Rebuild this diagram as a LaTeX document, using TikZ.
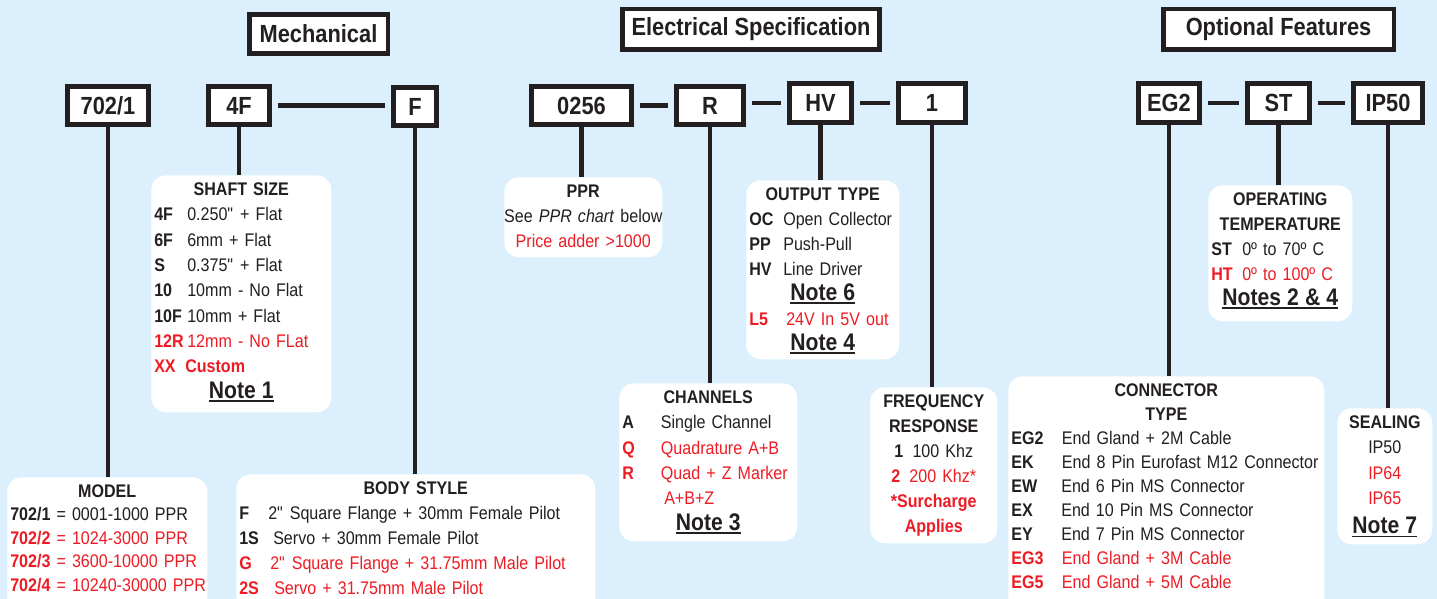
\documentclass[tikz,border=0pt]{standalone}
\usepackage{fontspec}
\setmainfont[FakeStretch=0.88]{Liberation Sans}
\usetikzlibrary{positioning,calc}
\definecolor{skyback}{RGB}{219,240,252}
\definecolor{inkblack}{RGB}{35,31,32}
\definecolor{codered}{RGB}{237,28,36}
\newcommand\codeline[3][24pt]{\makebox[\linewidth][l]{\makebox[#1][l]{\bfseries #2}#3}}
\newcommand\hot[1]{{\color{codered}#1}}
\newcommand\notetext[1]{\leavevmode\vtop{\hbox{\fontsize{18}{18}\selectfont\bfseries #1}%
  \kern1.1pt\hrule height 1.3pt}}
\tikzset{
  heading/.style={draw=inkblack,line width=3.4pt,fill=white,text=inkblack,
    font=\fontsize{18.6}{20}\selectfont\bfseries,inner sep=0pt},
  codebox/.style={heading,line width=3.5pt,minimum height=28.9pt},
  infobox/.style={fill=white,rounded corners=11pt,inner sep=0pt,anchor=north west},
  infotext/.style={anchor=north,inner sep=0pt,align=center,text=inkblack,yshift=-5.6pt},
  stem/.style={draw=inkblack,line width=3.5pt},
  link/.style={stem,shorten <=4.5pt,shorten >=4.5pt}
}
\begin{document}
\begin{tikzpicture}[x=0.75pt,y=-0.75pt]
  \useasboundingbox (0,0) rectangle (1437,599);
  \clip (0,0) rectangle (1437,599);
  \fill[skyback] (0,0) rectangle (1437,599);

  % section headings
  \node[heading,minimum width=103.9pt,minimum height=29.6pt] (mech) at (318.5,34) {Mechanical};
  \node[heading,minimum width=193.1pt,minimum height=30.4pt] (elec) at (751,29.5) {Electrical Specification};
  \node[heading,minimum width=172.9pt,minimum height=30.4pt] (opt) at (1278.5,29.5) {Optional Features};

  % part number codes
  \node[codebox,minimum width=61.1pt] (modelcode) at (108,105.5) {702/1};
  \node[codebox,minimum width=46.1pt] (shaftcode) at (239,105.5) {4F};
  \node[codebox,minimum width=32.6pt] (bodycode) at (415,106.5) {F};
  \node[codebox,minimum width=75.4pt] (pprcode) at (581.5,105.5) {0256};
  \node[codebox,minimum width=50.6pt] (chancode) at (710,105.5) {R};
  \node[codebox,minimum width=46.9pt] (outcode) at (820.5,103) {HV};
  \node[codebox,minimum width=50.6pt] (freqcode) at (932,103) {1};
  \node[codebox,minimum width=46.1pt] (conncode) at (1169,103) {EG2};
  \node[codebox,minimum width=46.9pt] (tempcode) at (1278.5,103) {ST};
  \node[codebox,minimum width=52.1pt] (sealcode) at (1388,103) {IP50};

  \draw[link] (shaftcode.east) -- (shaftcode.east -| bodycode.west);
  \draw[link] (pprcode.east) -- (pprcode.east -| chancode.west);
  \draw[link] (outcode.west -| chancode.east) -- (outcode.west);
  \draw[link] (outcode.east) -- (outcode.east -| freqcode.west);
  \draw[link] (conncode.east) -- (conncode.east -| tempcode.west);
  \draw[link] (tempcode.east) -- (tempcode.east -| sealcode.west);

  % option boxes
  \node[infobox,minimum width=150pt,minimum height=120pt] (modelbox) at (7,477) {};
  \node[infobox,minimum width=135pt,minimum height=177.75pt] (shaftbox) at (151,175) {};
  \node[infobox,minimum width=269.25pt,minimum height=120pt] (bodybox) at (236,474) {};
  \node[infobox,minimum width=118.5pt,minimum height=60pt] (pprbox) at (504,177) {};
  \node[infobox,minimum width=133.5pt,minimum height=118.5pt] (chanbox) at (619,383) {};
  \node[infobox,minimum width=114.75pt,minimum height=134.25pt] (outbox) at (746,180) {};
  \node[infobox,minimum width=95.25pt,minimum height=117pt] (freqbox) at (870,387) {};
  \node[infobox,minimum width=237pt,minimum height=195pt] (connbox) at (1008,376) {};
  \node[infobox,minimum width=108pt,minimum height=102pt] (tempbox) at (1208,185) {};
  \node[infobox,minimum width=71.25pt,minimum height=102pt] (sealbox) at (1337,408) {};

  \foreach \part in {model,shaft,body,ppr,chan,out,freq,conn,temp,seal}
    \draw[stem] (\part code.south) -- (\part code.south |- \part box.north);

  \node[infotext,text width=145.5pt,font=\fontsize{13.7}{17.6}\selectfont] (modeltext) at (modelbox.north) {%
    \textbf{MODEL}\\
    \makebox[\linewidth][l]{\textbf{702/1} = 0001-1000 PPR}\\
    \hot{\makebox[\linewidth][l]{\textbf{702/2} = 1024-3000 PPR}}\\
    \hot{\makebox[\linewidth][l]{\textbf{702/3} = 3600-10000 PPR}}\\
    \hot{\makebox[\linewidth][l]{\textbf{702/4} = 10240-30000 PPR}}};
  \node[infotext,text width=130.5pt,font=\fontsize{13.7}{19}\selectfont] (shafttext) at (shaftbox.north) {%
    \textbf{SHAFT SIZE}\\
    \codeline[24.75pt]{4F}{0.250\textquotedbl{} + Flat}\\
    \codeline[24.75pt]{6F}{6mm + Flat}\\
    \codeline[24.75pt]{S}{0.375\textquotedbl{} + Flat}\\
    \codeline[24.75pt]{10}{10mm - No Flat}\\
    \codeline[24.75pt]{10F}{10mm + Flat}\\
    \hot{\codeline[24.75pt]{12R}{12mm - No FLat}}\\
    \hot{\codeline[23.25pt]{XX}{\bfseries Custom}}\\
    \notetext{Note 1}};
  \node[infotext,text width=264.75pt,font=\fontsize{13.7}{18.75}\selectfont] (bodytext) at (bodybox.north) {%
    \textbf{BODY STYLE}\\
    \codeline[21.75pt]{F}{2\textquotedbl{} Square Flange + 30mm Female Pilot}\\
    \codeline[25.5pt]{1S}{Servo + 30mm Female Pilot}\\
    \hot{\codeline[23.25pt]{G}{2\textquotedbl{} Square Flange + 31.75mm Male Pilot}}\\
    \hot{\codeline[26.25pt]{2S}{Servo + 31.75mm Male Pilot}}};
  \node[infotext,text width=135pt,font=\fontsize{13.7}{18.75}\selectfont] (pprtext) at (pprbox.north) {%
    \textbf{PPR}\\
    See \textit{PPR chart} below\\
    \hot{Price adder >1000}};
  \node[infotext,text width=129pt,font=\fontsize{13.7}{19}\selectfont] (chantext) at (chanbox.north) {%
    \textbf{CHANNELS}\\
    \codeline[29pt]{A}{Single Channel}\\
    \hot{\codeline[29pt]{Q}{Quadrature A+B}}\\
    \hot{\codeline[29pt]{R}{Quad + Z Marker}}\\
    \hot{\codeline[31.5pt]{}{A+B+Z}}\\
    \notetext{Note 3}};
  \node[infotext,text width=110.25pt,font=\fontsize{13.7}{18.75}\selectfont] (outtext) at (outbox.north) {%
    \textbf{OUTPUT TYPE}\\
    \codeline[25.5pt]{OC}{Open Collector}\\
    \codeline[25.5pt]{PP}{Push-Pull}\\
    \codeline[25.5pt]{HV}{Line Driver}\\
    \notetext{Note 6}\\
    \hot{\codeline[27.75pt]{L5}{24V In 5V out}}\\
    \notetext{Note 4}};
  \node[infotext,text width=90.75pt,font=\fontsize{13.7}{18.75}\selectfont] (freqtext) at (freqbox.north) {%
    \textbf{FREQUENCY}\\
    \textbf{RESPONSE}\\
    \textbf{1}\enspace 100 Khz\\
    \hot{\textbf{2}\enspace 200 Khz*}\\
    \hot{\textbf{*Surcharge}}\\
    \hot{\textbf{Applies}}};
  \node[infotext,text width=232.5pt,font=\fontsize{13.7}{18}\selectfont] (conntext) at (connbox.north) {%
    \textbf{CONNECTOR}\\
    \textbf{TYPE}\\
    \codeline[38pt]{EG2}{End Gland + 2M Cable}\\
    \codeline[38pt]{EK}{End 8 Pin Eurofast M12 Connector}\\
    \codeline[37.5pt]{EW}{End 6 Pin MS Connector}\\
    \codeline[37.5pt]{EX}{End 10 Pin MS Connector}\\
    \codeline[37.5pt]{EY}{End 7 Pin MS Connector}\\
    \hot{\codeline[38pt]{EG3}{End Gland + 3M Cable}}\\
    \hot{\codeline[38pt]{EG5}{End Gland + 5M Cable}}};
  \node[infotext,text width=103.5pt,font=\fontsize{13.7}{18.75}\selectfont] (temptext) at (tempbox.north) {%
    \textbf{OPERATING}\\
    \textbf{TEMPERATURE}\\
    \codeline[23.25pt]{ST}{0º to 70º C}\\
    \hot{\codeline[23.25pt]{HT}{0º to 100º C}}\\
    \notetext{Notes 2 \& 4}};
  \node[infotext,text width=66.75pt,font=\fontsize{13.7}{19}\selectfont] (sealtext) at (sealbox.north) {%
    \textbf{SEALING}\\
    IP50\\
    \hot{IP64}\\
    \hot{IP65}\\[3pt]
    \notetext{Note 7}};
\end{tikzpicture}
\end{document}
